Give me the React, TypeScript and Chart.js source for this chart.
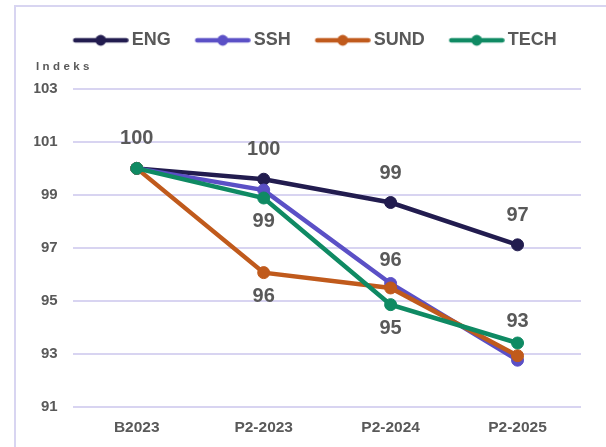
import React, { useEffect, useRef } from 'react';
import { Chart, registerables } from 'chart.js';

Chart.register(...registerables);

const CATEGORIES = ['B2023', 'P2-2023', 'P2-2024', 'P2-2025'];
const SERIES_NAMES = ['ENG', 'SSH', 'SUND', 'TECH'];
const ENG = [100, 99.59, 98.71, 97.11];
const SSH = [100, 99.18, 95.65, 92.75];
const SUND = [100, 96.06, 95.48, 92.92];
const TECH = [100, 98.88, 94.85, 93.4];
const ENG_LABELS = ['above', 'above', 'above', 'above'];
const SSH_LABELS = [null, null, 'above', null];
const SUND_LABELS = [null, 'below', null, null];
const TECH_LABELS = [null, 'below', 'below', 'above'];
const Y_TICKS = [91, 93, 95, 97, 99, 101, 103];
const Y_TITLE = 'Indeks';

const COLORS = ['#221c4f', '#5b50c6', '#c05a1c', '#0f8a63'];
const TEXT_GRAY = '#595959';
const GRID = '#d8d4f1';
const FONT = '"Liberation Sans", Arial, sans-serif';

function legendImage(color: string) {
  const c = document.createElement('canvas');
  c.width = 76;
  c.height = 14;
  const g = c.getContext('2d')!;
  g.strokeStyle = color;
  g.lineWidth = 4.5;
  g.lineCap = 'round';
  g.beginPath();
  g.moveTo(22.5, 7);
  g.lineTo(73.5, 7);
  g.stroke();
  g.fillStyle = color;
  g.beginPath();
  g.arc(48, 7, 5.4, 0, Math.PI * 2);
  g.fill();
  return c;
}

const valueLabels = {
  id: 'valueLabels',
  afterDatasetsDraw(chart: any) {
    const ctx = chart.ctx;
    ctx.save();
    ctx.font = `bold 20px ${FONT}`;
    ctx.fillStyle = TEXT_GRAY;
    ctx.textAlign = 'center';
    ctx.textBaseline = 'middle';
    chart.data.datasets.forEach((ds: any, i: number) => {
      const meta = chart.getDatasetMeta(i);
      ds.labelPos.forEach((pos: string | null, j: number) => {
        if (!pos) return;
        const pt = meta.data[j];
        const off = pos === 'above' ? ds.labelAbove : ds.labelBelow;
        ctx.fillText(String(Math.round(ds.data[j])), pt.x, pt.y + off);
      });
    });
    ctx.restore();
  },
};

const axisTitle = {
  id: 'axisTitle',
  afterDraw(chart: any) {
    const ctx = chart.ctx;
    ctx.save();
    ctx.font = `bold 11.5px ${FONT}`;
    (ctx as any).letterSpacing = '3.4px';
    ctx.fillStyle = TEXT_GRAY;
    ctx.textAlign = 'left';
    ctx.textBaseline = 'middle';
    ctx.fillText(Y_TITLE, 36, 67);
    ctx.restore();
  },
};

export default function App() {
  const ref = useRef<HTMLCanvasElement | null>(null);

  useEffect(() => {
    if (!ref.current) return;
    Chart.defaults.font.family = FONT;
    const values = [ENG, SSH, SUND, TECH];
    const labelPos = [ENG_LABELS, SSH_LABELS, SUND_LABELS, TECH_LABELS];
    const above = [-29.5, -22.5, -24, -21.6];
    const below = [24, 24, 24, 23.7];
    const order = [4, 3, 2, 1];
    const datasets = SERIES_NAMES.map((name, i) => ({
      label: name,
      data: values[i],
      borderColor: COLORS[i],
      backgroundColor: COLORS[i],
      pointBackgroundColor: COLORS[i],
      pointBorderColor: COLORS[i],
      borderWidth: 4.5,
      pointRadius: 6,
      pointBorderWidth: 1,
      tension: 0,
      order: order[i],
      labelPos: labelPos[i],
      labelAbove: above[i],
      labelBelow: below[i],
    }));

    const chart = new Chart(ref.current, {
      type: 'line',
      data: { labels: CATEGORIES, datasets: datasets as any },
      options: {
        animation: false,
        responsive: false,
        layout: { padding: { top: 21.3, left: 34.4, right: 25, bottom: -1.1 } },
        plugins: {
          tooltip: { enabled: false },
          title: { display: false },
          legend: {
            display: true,
            position: 'top',
            align: 'center',
            labels: {
              usePointStyle: true,
              pointStyleWidth: 64,
              padding: 10,
              color: TEXT_GRAY,
              font: { size: 18, weight: 'bold', family: FONT },
              generateLabels: (ch: any) =>
                ch.data.datasets.map((ds: any, i: number) => ({
                  text: ds.label,
                  fillStyle: COLORS[i],
                  strokeStyle: COLORS[i],
                  lineWidth: 0,
                  pointStyle: legendImage(COLORS[i]),
                  datasetIndex: i,
                  hidden: false,
                  fontColor: TEXT_GRAY,
                })),
            },
          },
        },
        scales: {
          x: {
            type: 'category',
            position: 'bottom',
            offset: true,
            grid: { display: false, drawTicks: false },
            border: { display: false },
            ticks: {
              color: TEXT_GRAY,
              padding: 11.5,
              font: { size: 15.5, weight: 'bold', family: FONT },
            },
          },
          spacer: {
            type: 'category',
            position: 'top',
            grid: { display: false, drawTicks: false },
            border: { display: false },
            ticks: { display: false },
            afterFit: (s: any) => {
              s.height = 29.7;
            },
          },
          y: {
            type: 'linear',
            min: 91,
            max: 103,
            grid: { color: GRID, lineWidth: 2, drawTicks: false },
            border: { display: false },
            afterBuildTicks: (s: any) => {
              s.ticks = Y_TICKS.map((v) => ({ value: v }));
            },
            afterFit: (s: any) => {
              s.width = 38.9;
            },
            ticks: {
              color: TEXT_GRAY,
              padding: 15.6,
              font: { size: 15, weight: 'bold', family: FONT },
            },
          },
        },
      } as any,
      plugins: [valueLabels, axisTitle],
    });
    return () => chart.destroy();
  }, []);

  return (
    <div
      style={{
        position: 'fixed',
        left: 0,
        top: 0,
        width: 606,
        height: 447,
        overflow: 'hidden',
        background: '#ffffff',
      }}
    >
      <div
        style={{
          position: 'absolute',
          left: 14,
          top: 5,
          width: 700,
          height: 600,
          borderLeft: '2px solid #d8d5f1',
          borderTop: '2px solid #d8d5f1',
        }}
      />
      <canvas
        ref={ref}
        width={606}
        height={447}
        style={{ position: 'absolute', left: 0, top: 0, width: 606, height: 447 }}
      />
    </div>
  );
}
